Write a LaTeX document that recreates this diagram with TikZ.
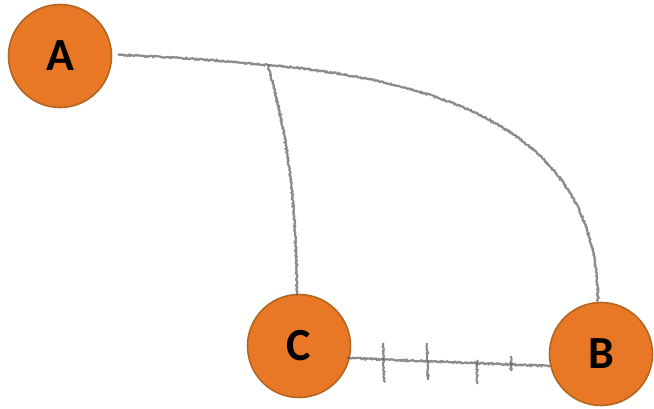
\documentclass[tikz,border=0pt]{standalone}
\usepackage{fontspec}
\setmainfont{Carlito}
\usetikzlibrary{decorations.pathmorphing}
\definecolor{nodefill}{HTML}{E87726}
\definecolor{nodeedge}{HTML}{B4661F}
\definecolor{pencil}{HTML}{5A5A5A}
\tikzset{
  vert/.style={circle, draw=nodeedge, line width=1.6pt, fill=nodefill, minimum size=103pt, inner sep=0pt, font=\fontsize{46}{46}\selectfont\bfseries, text=black},
  pencilline/.style={draw=pencil, line width=2.2pt, opacity=0.7, decorate, decoration={random steps, segment length=1.2pt, amplitude=0.7pt}},
  ticky/.style={draw=pencil, line width=2pt, opacity=0.7, decorate, decoration={random steps, segment length=1.2pt, amplitude=0.7pt}}
}
\begin{document}
\begin{tikzpicture}[x=1pt, y=-1pt]
\useasboundingbox (0,0) rectangle (654,408);
\node[vert] (A) at (60,56) {A};
\node[vert] (C) at (299,346) {C};
\node[vert] (B) at (601,354) {B};
\coordinate (Ae) at (118,55);
\coordinate (J) at (268,65);
\coordinate (Bt) at (598,300);
\coordinate (Ct) at (297,295);
\coordinate (Cr) at (347,358);
\coordinate (Bl) at (550,366);
\path[pencilline] (Ae) .. controls (180,57) and (230,62) .. (J) .. controls (480,84) and (596,150) .. (Bt);
\path[pencilline] (J) .. controls (280,110) and (296,170) .. (Ct);
\path[pencilline] (Cr) -- (Bl);
\coordinate (t1a) at (383,343); \coordinate (t1b) at (384,382);
\coordinate (t2a) at (427,343); \coordinate (t2b) at (428,380);
\coordinate (t3a) at (477,360); \coordinate (t3b) at (477,384);
\coordinate (t4a) at (511,356); \coordinate (t4b) at (511,371);
\path[ticky] (t1a) -- (t1b);
\path[ticky] (t2a) -- (t2b);
\path[ticky] (t3a) -- (t3b);
\path[ticky] (t4a) -- (t4b);
\end{tikzpicture}
\end{document}
